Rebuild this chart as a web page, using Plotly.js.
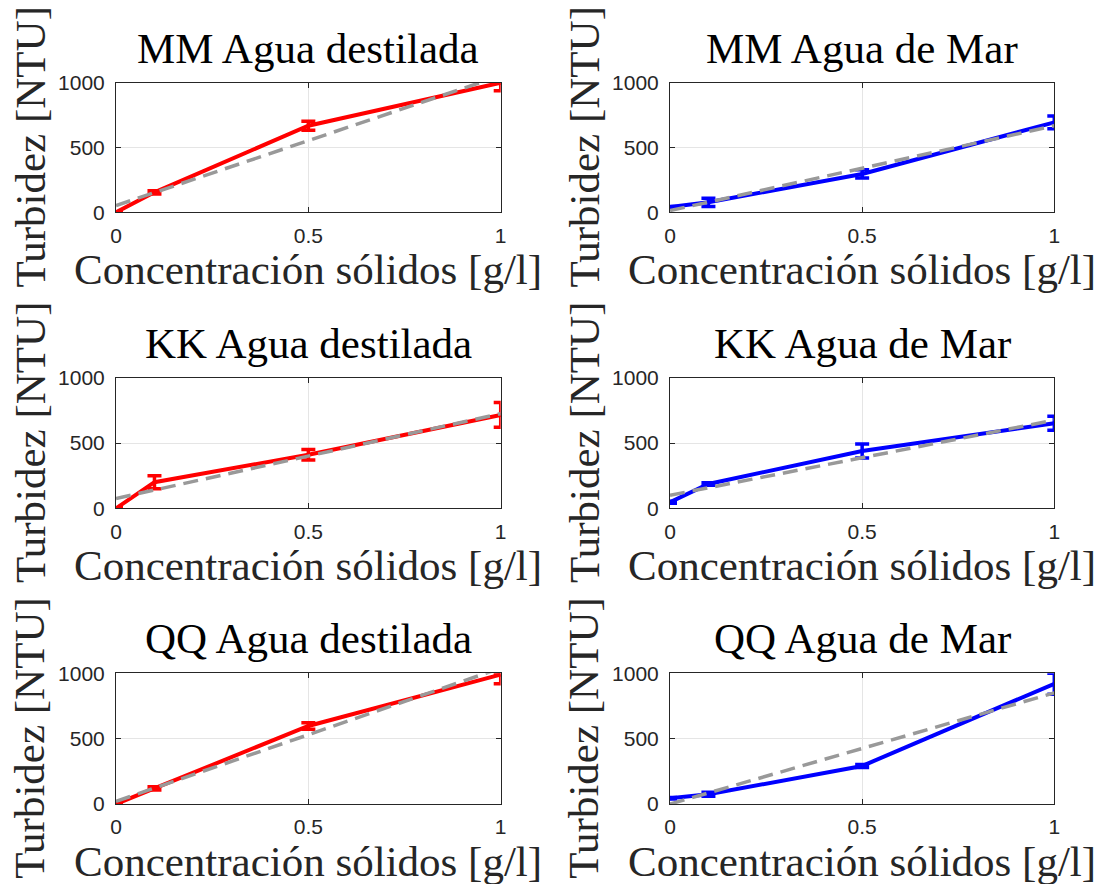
<!DOCTYPE html>
<html>
<head>
<meta charset="utf-8">
<script src="https://cdn.plot.ly/plotly-3.0.1.min.js"></script>
<style>
html,body{margin:0;padding:0;background:#ffffff;}
#chart{width:1095px;height:884px;}
</style>
</head>
<body>
<div id="chart"></div>
<script>
// ---------------- data ----------------
const conc = [0, 0.1, 0.5, 1];          // Concentración sólidos [g/l]
const fitX = [0, 1];

const panelTitles = ["MM Agua destilada", "MM Agua de Mar",
                     "KK Agua destilada", "KK Agua de Mar",
                     "QQ Agua destilada", "QQ Agua de Mar"];

// Turbidez [NTU] means
const mmDest = [0, 154, 668, 1000];
const mmMar  = [40, 77, 296, 694];
const kkDest = [0, 200, 410, 715];
const kkMar  = [46, 186, 439, 651];
const qqDest = [0, 120, 597, 990];
const qqMar  = [44, 74, 291, 920];

// error bars (visible part, upper / lower)
const mmDestErrUp = [5, 12, 35, 0];
const mmDestErrDn = [5, 12, 35, 62];
const mmMarErrUp  = [4, 32, 32, 50];
const mmMarErrDn  = [4, 32, 32, 50];
const kkDestErrUp = [5, 50, 40, 95];
const kkDestErrDn = [5, 50, 40, 95];
const kkMarErrUp  = [8, 10, 53, 53];
const kkMarErrDn  = [8, 10, 53, 53];
const qqDestErrUp = [5, 12, 25, 10];
const qqDestErrDn = [5, 12, 25, 70];
const qqMarErrUp  = [5, 15, 12, 80];
const qqMarErrDn  = [5, 15, 12, 80];

// linear fit lines (value at x = 0 and x = 1)
const mmDestFit = [52, 1054];
const mmMarFit  = [13, 668];
const kkDestFit = [75, 725];
const kkMarFit  = [100, 675];
const qqDestFit = [20, 1040];
const qqMarFit  = [0, 850];

const xTickVals = [0, 0.5, 1];
const xTickText = ["0", "0.5", "1"];
const yTickVals = [0, 500, 1000];
const yTickText = ["0", "500", "1000"];

const xLabel = "Concentración sólidos [g/l]";
const yLabel = "Turbidez [NTU]";

// ---------------- layout geometry (px) ----------------
const W = 1095, H = 884;
const colL = [116, 670], colR = [500.7, 1054.3];
const rowT = [82.7, 377.7, 673.3], rowB = [212.3, 508.3, 804];

const RED = "#ff0000", BLUE = "#0000ff", GRAY = "#999999", AX = "#262626";

const series = [
  {y: mmDest, up: mmDestErrUp, dn: mmDestErrDn, fit: mmDestFit, c: RED},
  {y: mmMar,  up: mmMarErrUp,  dn: mmMarErrDn,  fit: mmMarFit,  c: BLUE},
  {y: kkDest, up: kkDestErrUp, dn: kkDestErrDn, fit: kkDestFit, c: RED},
  {y: kkMar,  up: kkMarErrUp,  dn: kkMarErrDn,  fit: kkMarFit,  c: BLUE},
  {y: qqDest, up: qqDestErrUp, dn: qqDestErrDn, fit: qqDestFit, c: RED},
  {y: qqMar,  up: qqMarErrUp,  dn: qqMarErrDn,  fit: qqMarFit,  c: BLUE}
];

const px2x = v => v / W;
const px2y = v => 1 - v / H;

const traces = [];
const layout = {
  width: W, height: H,
  margin: {l: 0, r: 0, t: 0, b: 0},
  paper_bgcolor: "#ffffff", plot_bgcolor: "#ffffff",
  showlegend: false,
  annotations: []
};

const serif = "Liberation Serif, Times New Roman, serif";
const FS = 43;
const half = 0.3375 * FS;

series.forEach((s, i) => {
  const r = Math.floor(i / 2), c = i % 2;
  const n = i + 1;
  const xa = "x" + (n === 1 ? "" : n), ya = "y" + (n === 1 ? "" : n);
  const xk = "xaxis" + (n === 1 ? "" : n), yk = "yaxis" + (n === 1 ? "" : n);

  traces.push({
    type: "scatter", mode: "lines", x: conc, y: s.y, xaxis: xa, yaxis: ya,
    line: {color: s.c, width: 4},
    cliponaxis: false,
    error_y: {type: "data", symmetric: false, array: s.up, arrayminus: s.dn,
              color: s.c, thickness: 3.5, width: 7},
    hoverinfo: "x+y"
  });
  traces.push({
    type: "scatter", mode: "lines", x: fitX, y: s.fit, xaxis: xa, yaxis: ya,
    line: {color: GRAY, width: 3.5, dash: "15px,8px"},
    hoverinfo: "skip"
  });

  const common = {
    showline: true, linecolor: AX, linewidth: 1, mirror: "ticks",
    ticks: "inside", ticklen: 5, tickwidth: 1, tickcolor: AX,
    showgrid: true, gridcolor: "#e5e5e5", gridwidth: 1,
    zeroline: false, fixedrange: true,
    tickfont: {family: "Liberation Sans, Arial, sans-serif", size: 21, color: AX}
  };
  layout[xk] = Object.assign({}, common, {
    domain: [px2x(colL[c]), px2x(colR[c])], anchor: ya,
    range: [0, 1], tickmode: "array", tickvals: xTickVals, ticktext: xTickText,
    ticklabelstandoff: 4
  });
  layout[yk] = Object.assign({}, common, {
    domain: [px2y(rowB[r]), px2y(rowT[r])], anchor: xa,
    range: [0, 1000], tickmode: "array", tickvals: yTickVals, ticktext: yTickText,
    ticklabelstandoff: 6
  });

  const cx = (colL[c] + colR[c]) / 2;
  const cy = (rowT[r] + rowB[r]) / 2;
  layout.annotations.push({
    xref: "paper", yref: "paper", x: px2x(cx), y: px2y(rowT[r] - 20 - half),
    xanchor: "center", yanchor: "middle", showarrow: false,
    text: panelTitles[i], font: {family: serif, size: FS, color: "#000000"}
  });
  layout.annotations.push({
    xref: "paper", yref: "paper", x: px2x(cx), y: px2y(rowB[r] + 72.1 - half),
    xanchor: "center", yanchor: "middle", showarrow: false,
    text: xLabel, font: {family: serif, size: FS, color: AX}
  });
  layout.annotations.push({
    xref: "paper", yref: "paper", x: px2x(colL[c] - 86), y: px2y(cy),
    xanchor: "center", yanchor: "middle", showarrow: false, textangle: -90,
    text: yLabel, font: {family: serif, size: FS, color: AX}
  });
});

Plotly.newPlot("chart", traces, layout, {displayModeBar: false, staticPlot: true});
</script>
</body>
</html>
